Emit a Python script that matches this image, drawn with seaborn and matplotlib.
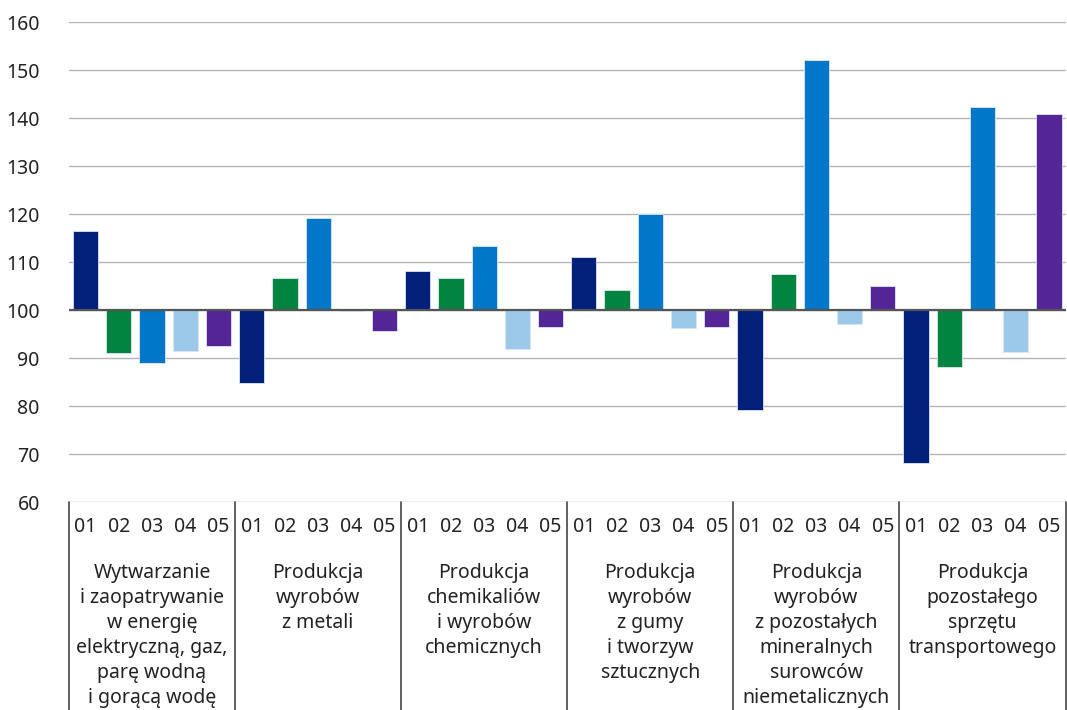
import numpy as np
import pandas as pd
import matplotlib
matplotlib.use("Agg")
import matplotlib.pyplot as plt
import seaborn as sns

# -----------------------------
# Data
# -----------------------------
groups = [
    "Wytwarzanie\ni zaopatrywanie\nw energię\nelektryczną, gaz,\nparę wodną\ni gorącą wodę",
    "Produkcja\nwyrobów\nz metali",
    "Produkcja\nchemikaliów\ni wyrobów\nchemicznych",
    "Produkcja\nwyrobów\nz gumy\ni tworzyw\nsztucznych",
    "Produkcja\nwyrobów\nz pozostałych\nmineralnych\nsurowców\nniemetalicznych",
    "Produkcja\npozostałego\nsprzętu\ntransportowego",
]
months = ["01", "02", "03", "04", "05"]

values_01 = [116.4, 84.8, 108.1, 111.0, 79.2, 68.2]
values_02 = [91.0, 106.6, 106.6, 104.1, 107.6, 88.2]
values_03 = [89.0, 119.1, 113.3, 119.9, 152.1, 142.2]
values_04 = [91.5, 99.7, 91.9, 96.2, 97.0, 91.2]
values_05 = [92.5, 95.6, 96.4, 96.4, 105.0, 140.9]

colors = ["#002079", "#00843F", "#0077C8", "#9CC9E9", "#532596"]

# -----------------------------
# Build long table
# -----------------------------
series = [values_01, values_02, values_03, values_04, values_05]
rows = []
for g in range(len(groups)):
    for m, vals in enumerate(series):
        rows.append({"pos": f"{g}-{months[m]}", "month": months[m], "value": vals[g]})
df = pd.DataFrame(rows)
df["dev"] = df["value"] - 100

# -----------------------------
# Plot
# -----------------------------
sns.set_style("white")
plt.rcParams["font.family"] = ["Noto Sans", "DejaVu Sans"]

fig = plt.figure(figsize=(10.67, 7.10), dpi=100)
ax = fig.add_axes([69 / 1067, 1 - 502 / 710, (1065.5 - 69) / 1067, (502 - 22) / 710])

sns.barplot(data=df, x="pos", y="dev", hue="month", palette=colors,
            dodge=False, width=0.76, bottom=100, legend=False, ax=ax,
            saturation=1, edgecolor="#dde6f0", linewidth=0.6)

ax.set_ylim(60, 160)
ax.set_xlim(-0.5, len(df) - 0.5)
ax.set_yticks(np.arange(60, 161, 10))
ax.set_yticklabels([str(v) for v in range(60, 161, 10)], fontsize=14, color="#222222")
ax.yaxis.grid(True, color="#b5b5b5", linewidth=1)
ax.set_axisbelow(True)
ax.axhline(100, color="#555555", linewidth=1.6, zorder=3)
for s in ax.spines.values():
    s.set_visible(False)
ax.tick_params(axis="y", length=0, pad=21)

ax.set_xticks(range(len(df)))
ax.set_xticklabels(df["month"], fontsize=14, color="#222222")
ax.tick_params(axis="x", length=0, pad=11)
ax.set_xlabel("")
ax.set_ylabel("")

# group separators and category labels below the axis
n = len(months)
for g in range(len(groups) + 1):
    ax.plot([g * n - 0.5, g * n - 0.5], [60, 14], color="#444444",
            linewidth=1.2, clip_on=False)
for g, name in enumerate(groups):
    ax.text(g * n + (n - 1) / 2, 47.2, name, ha="center", va="top",
            fontsize=14, color="#222222", linespacing=1.33, clip_on=False)

plt.savefig("out.png", dpi=100)
